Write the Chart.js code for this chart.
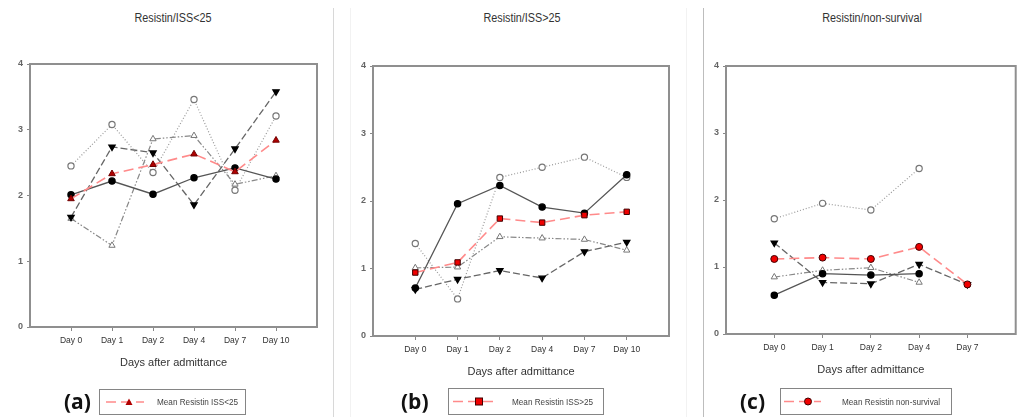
<!DOCTYPE html>
<html>
<head>
<meta charset="utf-8">
<script src="https://cdn.jsdelivr.net/npm/chart.js@4.4.1/dist/chart.umd.min.js"></script>
<style>
  body { margin: 0; width: 1021px; height: 417px; background: #fff; overflow: hidden; position: relative;
         font-family: 'Liberation Sans Narrow', 'Arial Narrow', 'Liberation Sans', Arial, sans-serif; }
  canvas { position: absolute; top: 0; }
  .title { position: absolute; top: 11px; line-height: 14px; font-size: 12px; color: #333; transform: translateX(-50%) scaleX(0.9); white-space: nowrap; }
  .tag { position: absolute; top: 388px; line-height: 26px; font-family: 'Open Sans', sans-serif; font-weight: bold; font-size: 21px; color: #111; }
  .legend { position: absolute; border: 1.5px solid #858585; box-sizing: border-box; font-size: 9.5px; color: #444; }
  .legend svg { position: absolute; top: 0; left: 0; }
  .legend span { position: absolute; white-space: nowrap; transform: scaleX(0.86); transform-origin: left center; }
  .sep { position: absolute; width: 1px; top: 8px; bottom: 0; }
</style>
</head>
<body>
<div class="sep" style="left:333px;background:#d8d8d8"></div>
<div class="sep" style="left:350px;background:#f2f2f2"></div>
<div class="sep" style="left:686px;background:#f2f2f2"></div>
<div class="sep" style="left:703px;background:#bdbdbd"></div>

<div class="title" style="left:173px">Resistin/ISS&lt;25</div>
<div class="title" style="left:522px">Resistin/ISS&gt;25</div>
<div class="title" style="left:872px">Resistin/non-survival</div>

<canvas id="chartA" width="333" height="417" style="left:0px"></canvas>
<canvas id="chartB" width="345" height="417" style="left:340px"></canvas>
<canvas id="chartC" width="318" height="417" style="left:703px"></canvas>

<div class="tag" style="left:64px">(a)</div>
<div class="tag" style="left:401px">(b)</div>
<div class="tag" style="left:740px">(c)</div>

<div id="legA" class="legend" style="left:99px;top:389px;width:147px;height:26px"></div>
<div id="legB" class="legend" style="left:448px;top:388px;width:156px;height:27px"></div>
<div id="legC" class="legend" style="left:780px;top:388px;width:172px;height:27px"></div>

<script>
const daysAB = ["Day 0", "Day 1", "Day 2", "Day 4", "Day 7", "Day 10"];
const daysC = ["Day 0", "Day 1", "Day 2", "Day 4", "Day 7"];
const yTicks = [0, 1, 2, 3, 4];
const axisTitle = "Days after admittance";

// (a) ISS<25
const aFilled = [2.01, 2.22, 2.02, 2.27, 2.42, 2.25];
const aOpen = [2.45, 3.08, 2.35, 3.46, 2.08, 3.21];
const aDown = [1.67, 2.74, 2.65, 1.86, 2.71, 3.58];
const aUp = [1.65, 1.24, 2.86, 2.91, 2.17, 2.30];
const aMean = [1.95, 2.33, 2.47, 2.63, 2.36, 2.84];

// (b) ISS>25
const bFilled = [0.71, 1.96, 2.23, 1.91, 1.82, 2.39];
const bOpen = [1.37, 0.55, 2.35, 2.50, 2.65, 2.35];
const bDown = [0.69, 0.84, 0.97, 0.86, 1.25, 1.39];
const bUp = [1.01, 1.02, 1.47, 1.45, 1.43, 1.27];
const bMean = [0.94, 1.09, 1.74, 1.68, 1.79, 1.84];

// (c) non-survival
const cFilled = [0.58, 0.90, 0.88, 0.90, null];
const cOpen = [1.72, 1.95, 1.85, 2.47, null];
const cDown = [1.36, 0.77, 0.75, 1.04, 0.74];
const cUp = [0.85, 0.95, 0.99, 0.77, null];
const cMean = [1.12, 1.14, 1.12, 1.30, 0.74];

const legendText = ["Mean Resistin ISS<25", "Mean Resistin ISS>25", "Mean Resistin non-survival"];

Chart.defaults.font.family = "'Liberation Sans Narrow', 'Arial Narrow', 'Liberation Sans', Arial, sans-serif";

const pts = arr => arr.map((v, i) => ({ x: i, y: v }));

const boxPlugin = {
  id: "box",
  beforeDatasetsDraw(chart) {
    const { ctx, chartArea: a } = chart;
    ctx.save();
    ctx.strokeStyle = "#8f8f8f";
    ctx.lineWidth = 2;
    ctx.strokeRect(a.left, a.top, a.right - a.left, a.bottom - a.top);
    ctx.restore();
  }
};

function datasets(filled, open, down, up, mean, meanMarker) {
  return [
    {
      data: pts(mean), borderColor: "#ff8a8a", borderWidth: 1.6, borderDash: [10, 5],
      pointRadius: meanMarker.r, pointStyle: meanMarker.style,
      pointBackgroundColor: meanMarker.fill, pointBorderColor: meanMarker.stroke, pointBorderWidth: 1
    },
    {
      data: pts(filled), borderColor: "#555", borderWidth: 1.3,
      pointRadius: 3.1, pointStyle: "circle", pointBackgroundColor: "#000", pointBorderColor: "#000"
    },
    {
      data: pts(open), borderColor: "#999", borderWidth: 1.2, borderDash: [1, 2],
      pointRadius: 3.1, pointStyle: "circle", pointBackgroundColor: "#fff", pointBorderColor: "#777", pointBorderWidth: 1.2
    },
    {
      data: pts(down), borderColor: "#666", borderWidth: 1.3, borderDash: [7, 3],
      pointRadius: 3.6, pointStyle: "triangle", pointRotation: 180, pointBackgroundColor: "#000", pointBorderColor: "#000"
    },
    {
      data: pts(up), borderColor: "#888", borderWidth: 1.2, borderDash: [6, 2, 1.5, 2, 1.5, 2],
      pointRadius: 3.6, pointStyle: "triangle", pointBackgroundColor: "#fff", pointBorderColor: "#777", pointBorderWidth: 1
    }
  ];
}

function makePanel(id, labels, sets, yWidth, pad) {
  return new Chart(document.getElementById(id), {
    type: "line",
    data: { datasets: sets },
    plugins: [boxPlugin],
    options: {
      responsive: false,
      animation: false,
      layout: { padding: pad },
      plugins: { legend: { display: false }, tooltip: { enabled: false } },
      scales: {
        x: {
          type: "linear", min: -1, max: labels.length,
          afterBuildTicks: s => { s.ticks = labels.map((_, i) => ({ value: i })); },
          afterFit: s => { s.height = 43; },
          grid: { drawOnChartArea: false, tickLength: 4, color: "#888" },
          border: { display: false },
          ticks: { callback: v => labels[v], font: { size: 8.5 }, color: "#333", padding: 5, maxRotation: 0, autoSkip: false },
          title: { display: true, text: axisTitle, font: { size: 11 }, color: "#333", padding: 0 }
        },
        y: {
          min: 0, max: 4,
          afterBuildTicks: s => { s.ticks = yTicks.map(v => ({ value: v })); },
          afterFit: s => { s.width = yWidth; },
          grid: { drawOnChartArea: false, tickLength: 3, color: "#888" },
          border: { display: false },
          ticks: { font: { size: 9, weight: "bold" }, color: "#666", padding: 4 }
        }
      }
    }
  });
}

makePanel("chartA", daysAB,
  datasets(aFilled, aOpen, aDown, aUp, aMean, { style: "triangle", r: 3.8, fill: "#b00000", stroke: "#700000" }),
  30, { left: 0, right: 16, top: 64, bottom: 47 });
makePanel("chartB", daysAB,
  datasets(bFilled, bOpen, bDown, bUp, bMean, { style: "rect", r: 3.8, fill: "#f00000", stroke: "#400000" }),
  33, { left: 0, right: 16, top: 66, bottom: 38 });
makePanel("chartC", daysC,
  datasets(cFilled, cOpen, cDown, cUp, cMean, { style: "circle", r: 3.5, fill: "#f00000", stroke: "#400000" }),
  23, { left: 0, right: 2, top: 66, bottom: 40 });

// legend boxes: dashed red sample with the mean marker, then text
function legend(id, text, x0, x1, mx, marker, tx) {
  const el = document.getElementById(id);
  const h = el.clientHeight;
  const cy = h / 2;
  let m;
  if (marker === "triangle") m = `<polygon points="${mx - 3.5},${cy + 3} ${mx + 3.5},${cy + 3} ${mx},${cy - 3.5}" fill="#b00000"/>`;
  else if (marker === "rect") m = `<rect x="${mx - 3.5}" y="${cy - 3.5}" width="7" height="7" fill="#f00000" stroke="#400000"/>`;
  else m = `<circle cx="${mx}" cy="${cy}" r="3.5" fill="#f00000" stroke="#400000"/>`;
  el.innerHTML = `<svg width="${x1 + 4}" height="${h}"><line x1="${x0}" y1="${cy}" x2="${x1}" y2="${cy}" stroke="#ff8a8a" stroke-width="1.6" stroke-dasharray="10 5"/>${m}</svg>` +
    `<span style="left:${tx}px;top:${cy - 6}px;line-height:12px">${text.replace("<", "&lt;").replace(">", "&gt;")}</span>`;
}
legend("legA", legendText[0], 6, 44, 29, "triangle", 57);
legend("legB", legendText[1], 4, 49, 30, "rect", 63);
legend("legC", legendText[2], 3, 40, 27, "circle", 61);
</script>
</body>
</html>
